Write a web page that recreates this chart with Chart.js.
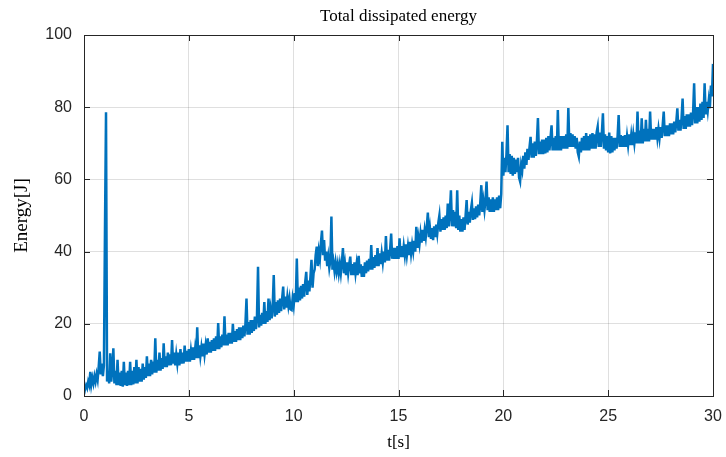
<!DOCTYPE html>
<html>
<head>
<meta charset="utf-8">
<script src="https://cdn.jsdelivr.net/npm/chart.js@4/dist/chart.umd.min.js"></script>
<style>
  html, body { margin: 0; padding: 0; background: #ffffff; }
  #wrap { width: 726px; height: 457px; position: relative; }
</style>
</head>
<body>
<div id="wrap"><canvas id="c" width="726" height="457"></canvas></div>
<script>
// Sampling interval of the recorded energy signal [s]
const sampleStep = 0.05;

// Total dissipated energy [J], one row per second of simulation (20 samples each)
const energy = [
  0.5, 2.0, 3.0, 2.2, 4.0, 3.0, 6.7, 3.2, 5.0, 3.5, 5.5, 4.0, 6.0, 4.5, 8.0, 12.3, 6.0, 9.0, 5.5, 8.5,
  46, 78.6, 4.0, 7.0, 3.5, 11.8, 4.0, 7.5, 13.2, 3.5, 7.0, 3.0, 10.0, 3.0, 6.5, 2.8, 7.0, 2.6, 9.5, 3.0,
  6.5, 2.8, 7.0, 3.0, 9.5, 3.0, 7.0, 3.2, 8.0, 3.5, 10.0, 3.5, 8.0, 4.0, 7.5, 4.0, 9.0, 4.5, 8.0, 5.0,
  11.0, 5.5, 9.0, 5.5, 10.0, 6.0, 9.5, 6.5, 16.0, 6.5, 10.0, 7.0, 12.0, 7.0, 10.5, 7.5, 14.6, 8.0, 11.0, 8.0,
  12.0, 8.5, 11.5, 8.5, 15.5, 9.0, 12.0, 8.5, 11.5, 9.0, 12.0, 8.5, 13.0, 9.0, 12.0, 9.0, 14.0, 9.5, 12.5, 9.5,
  13.0, 9.5, 12.5, 10.0, 13.5, 10.0, 13.0, 10.5, 19.0, 10.5, 14.0, 11.0, 13.5, 11.0, 14.5, 11.5, 14.0, 11.5, 16.0, 12.0,
  15.0, 12.0, 15.5, 12.5, 16.0, 12.5, 16.5, 13.0, 20.2, 13.0, 16.5, 13.5, 17.0, 14.0, 22.1, 14.0, 17.0, 14.0, 17.5, 14.5,
  17.5, 14.5, 20.0, 15.0, 18.0, 15.0, 18.5, 15.5, 19.0, 15.5, 19.0, 16.0, 19.5, 16.5, 20.0, 27.0, 17.0, 20.5, 17.0, 21.0,
  17.5, 21.0, 18.0, 22.0, 18.5, 22.0, 35.8, 19.0, 22.5, 19.5, 23.0, 20.0, 26.0, 20.0, 23.5, 20.5, 27.0, 21.0, 24.0, 21.5,
  25.0, 33.5, 22.0, 26.0, 22.5, 26.5, 23.0, 27.0, 23.5, 27.0, 30.3, 24.0, 27.5, 24.5, 27.5, 25.0, 27.0, 24.0, 23.8, 27.0,
  25.0, 28.5, 26.0, 38.1, 26.0, 30.0, 26.5, 30.5, 27.0, 31.0, 27.5, 31.5, 34.4, 28.0, 32.0, 29.0, 33.0, 37.7, 30.0, 34.0,
  35.0, 39.0, 41.4, 36.0, 40.0, 38.0, 42.5, 45.8, 39.0, 43.2, 37.5, 40.0, 36.0, 38.5, 35.5, 37.5, 49.7, 35.0, 37.0, 34.5,
  37.0, 34.5, 36.5, 34.0, 36.5, 34.0, 37.0, 41.0, 34.0, 36.5, 33.5, 37.0, 34.0, 36.5, 38.6, 33.5, 36.5, 33.5, 37.0, 34.0,
  36.5, 33.5, 38.8, 34.0, 36.5, 33.0, 36.0, 33.0, 37.0, 34.0, 37.5, 34.5, 38.0, 35.0, 41.8, 35.0, 38.5, 35.5, 39.0, 36.0,
  41.0, 36.0, 39.5, 36.5, 39.5, 37.0, 40.0, 37.0, 44.3, 37.5, 40.5, 37.5, 40.5, 45.0, 38.0, 41.0, 38.0, 41.0, 38.0, 41.5,
  38.0, 43.7, 38.5, 41.5, 38.5, 41.5, 39.0, 42.0, 39.0, 41.5, 39.0, 42.7, 39.5, 42.0, 40.0, 43.0, 40.0, 46.9, 41.0, 44.0,
  42.0, 45.0, 42.5, 46.0, 43.0, 46.0, 44.0, 47.0, 50.8, 44.0, 46.5, 43.5, 46.5, 43.2, 47.0, 44.0, 47.5, 45.0, 48.0, 50.0,
  45.5, 49.0, 46.0, 49.5, 46.0, 50.0, 46.5, 53.3, 47.0, 51.0, 57.0, 47.0, 51.5, 47.0, 51.0, 46.5, 57.0, 46.0, 50.0, 45.5,
  49.0, 45.5, 49.5, 46.0, 50.0, 54.3, 47.5, 51.0, 48.0, 51.5, 53.5, 48.8, 52.0, 49.0, 52.5, 49.5, 53.0, 50.0, 53.5, 58.4,
  51.0, 54.0, 51.5, 54.5, 59.4, 51.5, 55.0, 51.0, 54.5, 51.0, 55.0, 51.0, 54.5, 51.5, 55.0, 51.5, 55.5, 52.0, 56.0, 70.4,
  61.0, 66.0, 62.0, 67.0, 75.0, 62.0, 67.0, 61.5, 66.5, 61.0, 66.0, 61.5, 65.5, 62.0, 66.0, 60.5, 59.4, 64.0, 62.5, 66.5,
  63.0, 67.5, 64.0, 68.5, 65.4, 69.0, 71.8, 66.0, 70.0, 66.0, 70.5, 66.5, 70.5, 77.0, 67.0, 70.5, 67.0, 71.0, 67.0, 71.0,
  67.2, 71.5, 67.5, 72.0, 68.0, 71.5, 75.0, 68.0, 71.5, 68.0, 72.0, 68.0, 79.2, 68.0, 72.0, 68.0, 72.0, 68.5, 72.0, 68.5,
  72.5, 68.5, 79.8, 69.0, 72.8, 69.0, 72.5, 69.0, 72.0, 68.5, 71.5, 67.5, 66.3, 70.5, 67.5, 71.5, 68.0, 72.0, 68.0, 72.8,
  68.0, 72.0, 68.0, 72.5, 68.5, 72.8, 68.5, 72.5, 68.5, 73.0, 74.6, 69.0, 73.0, 69.0, 73.0, 78.3, 68.5, 72.5, 68.0, 72.0,
  67.5, 73.0, 67.2, 72.0, 67.5, 71.5, 68.0, 71.5, 68.5, 72.0, 77.8, 69.0, 72.3, 69.0, 72.0, 69.0, 72.3, 69.0, 72.0, 69.5,
  72.5, 69.5, 72.3, 69.5, 72.5, 70.0, 73.0, 70.0, 78.8, 70.0, 73.5, 70.0, 76.9, 70.0, 74.0, 70.5, 76.5, 70.5, 74.0, 70.5,
  78.8, 71.0, 74.0, 71.0, 74.0, 71.0, 74.5, 71.5, 74.0, 71.5, 74.5, 71.5, 75.0, 78.8, 72.0, 75.0, 72.0, 75.0, 72.0, 75.5,
  72.5, 75.5, 72.5, 76.0, 73.0, 76.0, 79.7, 73.5, 76.5, 73.5, 77.0, 82.4, 74.0, 77.5, 74.0, 78.0, 74.6, 78.0, 74.6, 78.5,
  75.0, 78.5, 86.6, 75.5, 80.0, 75.5, 80.0, 76.0, 81.0, 76.5, 81.5, 77.0, 86.6, 78.0, 81.5, 79.0, 82.0, 79.7, 86.0, 83.0,
  92.0
];

// Axis tick values
const timeTicks = [0, 5, 10, 15, 20, 25, 30];
const energyTicks = [0, 20, 40, 60, 80, 100];

const titleText = 'Total dissipated energy';
const xLabel = 't[s]';
const yLabel = 'Energy[J]';

const points = energy.map((e, i) => ({ x: +(i * sampleStep).toFixed(2), y: e }));

const axisColor = '#262626';
const gridColor = 'rgba(38,38,38,0.15)';
const sansFont = "'Liberation Sans', Arial, Helvetica, sans-serif";
const serifFont = "'Liberation Serif', 'DejaVu Serif', serif";

// Draws the title, the boxed frame and the inward tick marks on all four sides
const framePlugin = {
  id: 'frame',
  afterDraw(chart) {
    const { ctx, chartArea: a, scales } = chart;
    ctx.save();
    ctx.strokeStyle = axisColor;
    ctx.lineWidth = 1;
    ctx.strokeRect(Math.round(a.left) + 0.5, Math.round(a.top) + 0.5,
                   Math.round(a.right - a.left), Math.round(a.bottom - a.top));
    const tl = 6;
    ctx.beginPath();
    timeTicks.forEach(v => {
      const x = Math.round(scales.x.getPixelForValue(v)) + 0.5;
      ctx.moveTo(x, a.bottom); ctx.lineTo(x, a.bottom - tl);
      ctx.moveTo(x, a.top); ctx.lineTo(x, a.top + tl);
    });
    energyTicks.forEach(v => {
      const y = Math.round(scales.y.getPixelForValue(v)) + 0.5;
      ctx.moveTo(a.left, y); ctx.lineTo(a.left + tl, y);
      ctx.moveTo(a.right, y); ctx.lineTo(a.right - tl, y);
    });
    ctx.stroke();

    ctx.fillStyle = '#000000';
    ctx.font = '17px ' + serifFont;
    ctx.textAlign = 'center';
    ctx.textBaseline = 'middle';
    ctx.fillText(titleText, (a.left + a.right) / 2, 17);
    ctx.restore();
  }
};

new Chart(document.getElementById('c'), {
  type: 'line',
  data: {
    datasets: [{
      data: points,
      borderColor: '#0072BD',
      borderWidth: 2.5,
      pointRadius: 0,
      tension: 0,
      fill: false
    }]
  },
  options: {
    responsive: false,
    animation: false,
    devicePixelRatio: 1,
    layout: { padding: { top: 35, right: 13, bottom: 0, left: 0 } },
    plugins: { legend: { display: false }, tooltip: { enabled: false }, title: { display: false } },
    scales: {
      x: {
        type: 'linear',
        min: 0, max: 30,
        afterBuildTicks: s => { s.ticks = timeTicks.map(v => ({ value: v })); },
        afterFit: s => { s.height = 61; s.paddingLeft = 0; s.paddingRight = 0; },
        grid: { color: gridColor, drawTicks: false },
        border: { display: false },
        ticks: { color: axisColor, font: { family: sansFont, size: 16 }, padding: 11, maxRotation: 0 },
        title: { display: true, text: xLabel, color: '#000000',
                 font: { family: serifFont, size: 17 }, padding: { top: 0, bottom: 4 } }
      },
      y: {
        type: 'linear',
        min: 0, max: 100,
        afterBuildTicks: s => { s.ticks = energyTicks.map(v => ({ value: v })); },
        afterFit: s => { s.width = 84; s.paddingTop = 0; s.paddingBottom = 0; },
        grid: { color: gridColor, drawTicks: false },
        border: { display: false },
        ticks: { color: axisColor, font: { family: sansFont, size: 16 }, padding: 12 },
        title: { display: true, text: yLabel, color: '#000000',
                 font: { family: serifFont, size: 19 }, padding: { top: 11, bottom: 0 } }
      }
    }
  },
  plugins: [framePlugin]
});
</script>
</body>
</html>
